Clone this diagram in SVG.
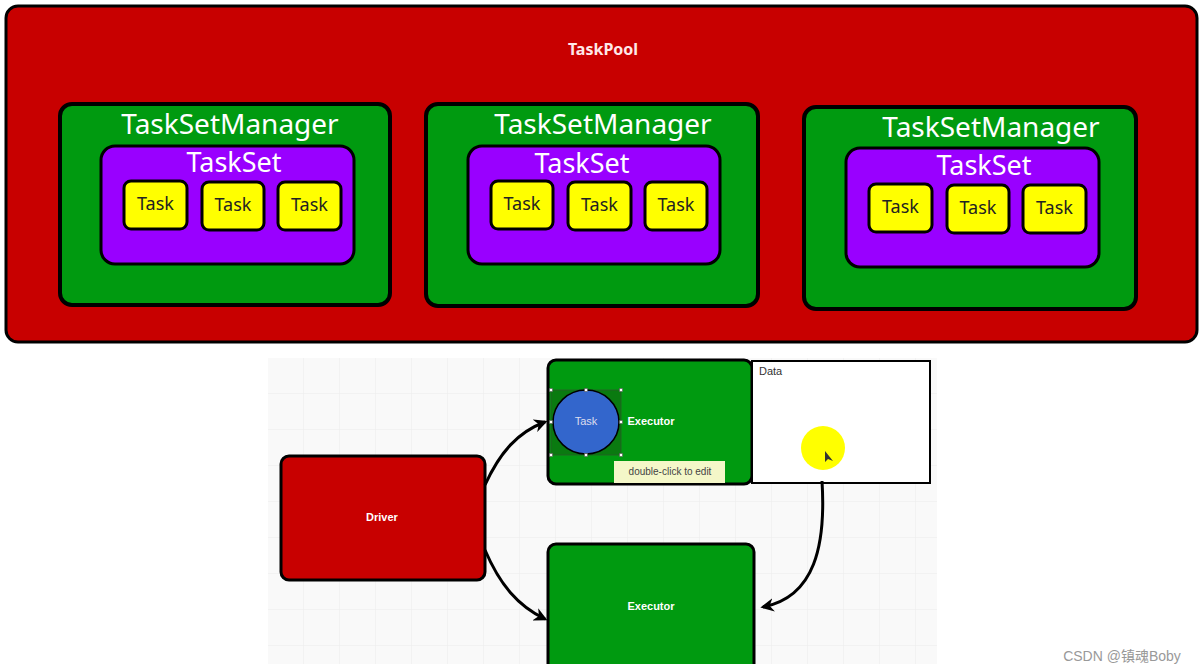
<svg xmlns="http://www.w3.org/2000/svg" width="1201" height="672" viewBox="0 0 1201 672">
<defs>
<style>
.pool{fill:#c80000;stroke:#000;stroke-width:3}
.mgr{fill:#009a10;stroke:#000;stroke-width:4}
.set{fill:#9900ff;stroke:#000;stroke-width:3}
.task{fill:#ffff00;stroke:#000;stroke-width:3}
.big{font-family:"Noto Sans","Open Sans",sans-serif;fill:#fff;text-anchor:middle}
.tt{font-family:"Noto Sans",sans-serif;font-size:18px;fill:#222;text-anchor:middle}
.sm{font-family:"Liberation Sans",sans-serif;font-size:11px;text-anchor:middle}
.conn{fill:none;stroke:#000;stroke-width:3}
.handle{fill:#fff;stroke:#555;stroke-width:0.6}
</style>
<marker id="ah" viewBox="0 0 10 10" refX="8" refY="5" markerWidth="4.5" markerHeight="4.5" orient="auto" markerUnits="strokeWidth">
<path d="M0,0 L10,5 L0,10 L3,5 z" fill="#000"/>
</marker>
<pattern id="grid" width="36" height="36" patternUnits="userSpaceOnUse" x="268" y="358">
<rect width="36" height="36" fill="#f9f9f9"/>
<path d="M36,0 V36 M0,36 H36" stroke="#ececec" stroke-width="1"/>
</pattern>
<clipPath id="canvasClip"><rect x="268" y="358" width="669" height="306"/></clipPath>
</defs>
<rect width="1201" height="672" fill="#fff"/>

<g id="taskpool">
<rect class="pool" x="6" y="6" width="1191" height="336" rx="12"/>
<text x="603" y="55" font-family="Noto Sans,sans-serif" font-size="16" font-weight="bold" fill="#ffe8e8" text-anchor="middle">TaskPool</text>
</g>

<g id="tsm1">
<rect class="mgr" x="60" y="104" width="330" height="201" rx="12"/>
<text class="big" x="230" y="134" font-size="28">TaskSetManager</text>
</g>
<g id="taskset1">
<rect class="set" x="101" y="146" width="253" height="118" rx="14"/>
<text class="big" x="234" y="172" font-size="27">TaskSet</text>
</g>
<g id="task1a"><rect class="task" x="124" y="181" width="63" height="48" rx="7"/><text class="tt" x="155.5" y="210">Task</text></g>
<g id="task1b"><rect class="task" x="202" y="182" width="62" height="48" rx="7"/><text class="tt" x="233" y="211">Task</text></g>
<g id="task1c"><rect class="task" x="278" y="182" width="63" height="48" rx="7"/><text class="tt" x="309.5" y="211">Task</text></g>

<g id="tsm2">
<rect class="mgr" x="426" y="104" width="332" height="202" rx="12"/>
<text class="big" x="603" y="134" font-size="28">TaskSetManager</text>
</g>
<g id="taskset2">
<rect class="set" x="468" y="146" width="252" height="118" rx="14"/>
<text class="big" x="582" y="173" font-size="27">TaskSet</text>
</g>
<g id="task2a"><rect class="task" x="491" y="181" width="62" height="48" rx="7"/><text class="tt" x="522" y="210">Task</text></g>
<g id="task2b"><rect class="task" x="568" y="182" width="63" height="48" rx="7"/><text class="tt" x="599.5" y="211">Task</text></g>
<g id="task2c"><rect class="task" x="645" y="182" width="62" height="48" rx="7"/><text class="tt" x="676" y="211">Task</text></g>

<g id="tsm3">
<rect class="mgr" x="804" y="107" width="332" height="202" rx="12"/>
<text class="big" x="991" y="137" font-size="28">TaskSetManager</text>
</g>
<g id="taskset3">
<rect class="set" x="846" y="148" width="253" height="119" rx="14"/>
<text class="big" x="984" y="175" font-size="27">TaskSet</text>
</g>
<g id="task3a"><rect class="task" x="869" y="184" width="63" height="48" rx="7"/><text class="tt" x="900.5" y="213">Task</text></g>
<g id="task3b"><rect class="task" x="947" y="185" width="62" height="48" rx="7"/><text class="tt" x="978" y="214">Task</text></g>
<g id="task3c"><rect class="task" x="1023" y="185" width="63" height="48" rx="7"/><text class="tt" x="1054.5" y="214">Task</text></g>

<g id="canvas">
<rect x="268" y="358" width="669" height="306" fill="url(#grid)"/>
</g>

<g id="driver">
<rect x="281" y="456" width="204" height="124" rx="8" fill="#c80000" stroke="#000" stroke-width="3"/>
<text class="sm" x="382" y="521" fill="#fff" font-weight="bold">Driver</text>
</g>

<g id="executor1">
<rect x="548" y="360" width="204" height="124" rx="8" fill="#009a10" stroke="#000" stroke-width="3"/>
<text class="sm" x="651" y="425" fill="#fff" font-weight="bold">Executor</text>
</g>

<g id="task-circle">
<rect x="551" y="390" width="70" height="65" fill="#0a7a10" stroke="#2a5a2a" stroke-width="0.8"/>
<ellipse cx="586" cy="422" rx="33" ry="32" fill="#3366cc" stroke="#000" stroke-width="1.5"/>
<text class="sm" x="586" y="425" fill="#dde" font-size="10.5">Task</text>
<rect class="handle" x="549.5" y="388.5" width="3" height="3"/>
<rect class="handle" x="584.5" y="388.5" width="3" height="3"/>
<rect class="handle" x="619.5" y="388.5" width="3" height="3"/>
<rect class="handle" x="549.5" y="420.5" width="3" height="3"/>
<rect class="handle" x="619.5" y="420.5" width="3" height="3"/>
<rect class="handle" x="549.5" y="453.5" width="3" height="3"/>
<rect class="handle" x="584.5" y="453.5" width="3" height="3"/>
<rect class="handle" x="619.5" y="453.5" width="3" height="3"/>
</g>

<g id="tooltip">
<rect x="614" y="461" width="111" height="22" fill="#f4f7c8"/>
<text x="670" y="475" font-family="Liberation Sans,sans-serif" font-size="10" fill="#444" text-anchor="middle">double-click to edit</text>
</g>

<g id="executor2" clip-path="url(#canvasClip)">
<rect x="548" y="544" width="206" height="130" rx="8" fill="#009a10" stroke="#000" stroke-width="3"/>
<text class="sm" x="651" y="610" fill="#fff" font-weight="bold">Executor</text>
</g>

<g id="data">
<rect x="752" y="361" width="178" height="122" fill="#fff" stroke="#000" stroke-width="2"/>
<text x="759" y="375" font-family="Liberation Sans,sans-serif" font-size="11" fill="#333">Data</text>
<circle cx="823" cy="448" r="22" fill="#ffff00"/>
<path d="M825,451 L825,462 L828,459 L833,461 Z" fill="#333"/>
</g>

<g id="connectors">
<path class="conn" d="M485,485 C500,452 518,432 545,422" marker-end="url(#ah)"/>
<path class="conn" d="M485,550 C500,585 518,606 545,619" marker-end="url(#ah)"/>
<path class="conn" d="M822,481 C826,545 815,597 763,607" marker-end="url(#ah)"/>
</g>

<text x="1122" y="661" font-family="Liberation Sans,'Noto Sans CJK SC',sans-serif" font-size="14" fill="#999" text-anchor="middle">CSDN @镇魂Boby</text>
</svg>
